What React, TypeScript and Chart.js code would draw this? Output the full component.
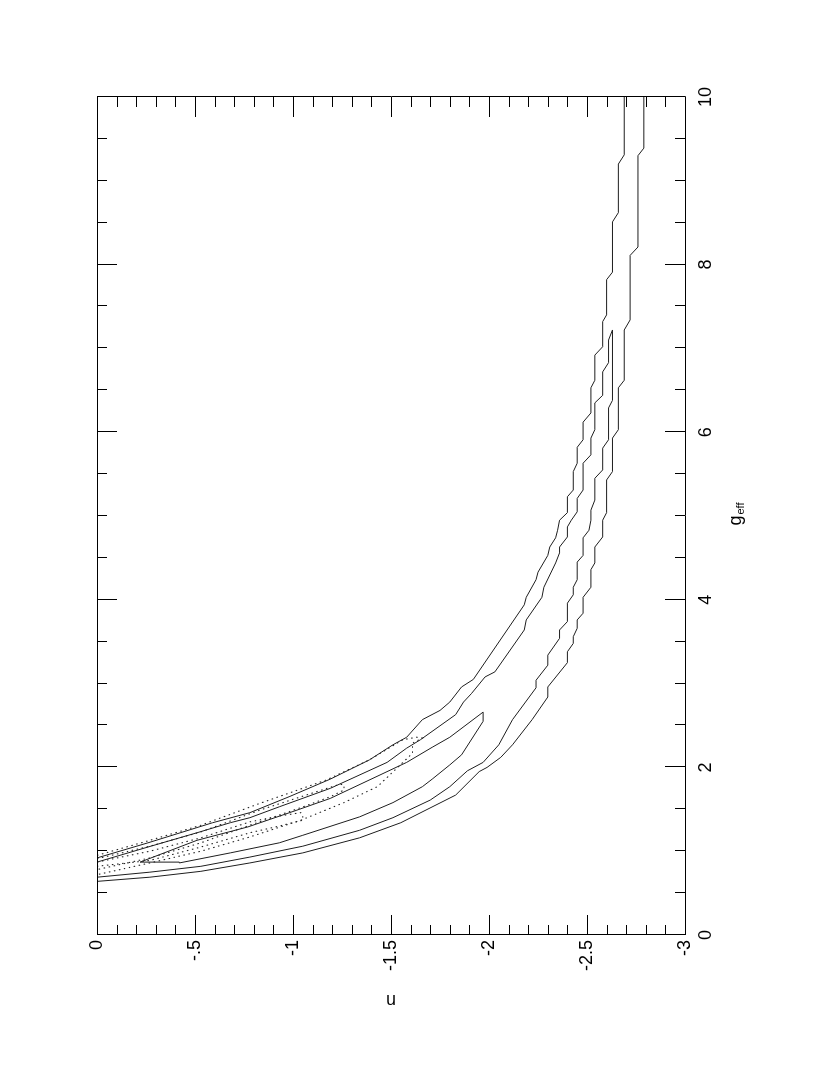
import React, { useEffect, useRef } from 'react';
import { Chart, registerables } from 'chart.js';

Chart.register(...registerables);

type Pt = [number, number]; // [g_eff, n]

// Axis ticks and titles
const gTickValues = [0, 2, 4, 6, 8, 10];
const gTickLabels = ['0', '2', '4', '6', '8', '10'];
const nTickValues = [0, -0.5, -1, -1.5, -2, -2.5, -3];
const nTickLabels = ['0', '-.5', '-1', '-1.5', '-2', '-2.5', '-3'];
const xTitleMain = 'g';
const xTitleSub = 'eff';
const yTitle = 'n';

// Solid contours
const solidOuterUpper: Pt[] = [
  [0.92, 0], [1.10, -0.26], [1.34, -0.59], [1.46, -0.78], [1.65, -0.98], [1.86, -1.19],
  [2.09, -1.39], [2.27, -1.51], [2.36, -1.58], [2.57, -1.66], [2.68, -1.75], [2.78, -1.80],
  [2.96, -1.86], [3.05, -1.92], [3.94, -2.18], [4.03, -2.19], [4.24, -2.24], [4.33, -2.25],
  [4.53, -2.30], [4.63, -2.31], [4.74, -2.34], [4.83, -2.35], [4.95, -2.36], [5.04, -2.40],
  [5.23, -2.40], [5.31, -2.43], [5.53, -2.43], [5.63, -2.45], [5.82, -2.45], [5.91, -2.48],
  [6.12, -2.48], [6.23, -2.52], [6.53, -2.52], [6.62, -2.54], [6.92, -2.54], [7.02, -2.58],
  [7.32, -2.58], [7.40, -2.60], [7.82, -2.60], [7.91, -2.63], [8.51, -2.63], [8.62, -2.66],
  [9.20, -2.66], [9.31, -2.69], [10, -2.69],
];

const solidOuterLower: Pt[] = [
  [0.64, 0], [0.69, -0.27], [0.76, -0.53], [0.86, -0.78], [0.98, -1.05], [1.16, -1.34],
  [1.34, -1.55], [1.67, -1.83], [1.95, -1.95], [2.00, -1.99], [2.12, -2.06], [2.27, -2.12],
  [2.57, -2.22], [2.84, -2.30], [2.96, -2.30], [3.25, -2.40], [3.38, -2.40], [3.48, -2.43],
  [3.56, -2.43], [3.66, -2.45], [3.76, -2.45], [3.84, -2.48], [4.03, -2.48], [4.15, -2.52],
  [4.36, -2.52], [4.44, -2.54], [4.63, -2.54], [4.75, -2.58], [4.95, -2.58], [5.04, -2.60],
  [5.43, -2.60], [5.53, -2.63], [5.93, -2.63], [6.03, -2.66], [6.53, -2.66], [6.62, -2.69],
  [7.22, -2.69], [7.34, -2.72], [8.11, -2.72], [8.21, -2.76], [9.30, -2.76], [9.39, -2.79],
  [10, -2.79],
];

const solidMiddleLoop: Pt[] = [
  [0.87, 0], [1.05, -0.26], [1.22, -0.51], [1.34, -0.68], [1.40, -0.78], [1.53, -0.93],
  [1.75, -1.19], [2.06, -1.48], [2.23, -1.58], [2.33, -1.65], [2.63, -1.83], [2.78, -1.87],
  [2.88, -1.91], [3.08, -1.98], [3.14, -2.03], [3.64, -2.18], [3.76, -2.19], [4.03, -2.27],
  [4.15, -2.28], [4.44, -2.34], [4.56, -2.36], [4.63, -2.36], [4.75, -2.40], [4.87, -2.40],
  [4.95, -2.42], [5.05, -2.45], [5.21, -2.45], [5.31, -2.48], [5.63, -2.48], [5.73, -2.52],
  [5.93, -2.52], [6.03, -2.54], [6.35, -2.54], [6.44, -2.58], [6.72, -2.58], [6.83, -2.61],
  [7.10, -2.61], [7.22, -2.63],
  [6.38, -2.63], [6.29, -2.61], [5.91, -2.61], [5.81, -2.58], [5.55, -2.58], [5.45, -2.54],
  [5.19, -2.54], [5.07, -2.52], [4.95, -2.52], [4.83, -2.51], [4.74, -2.48], [4.53, -2.48],
  [4.45, -2.45], [4.24, -2.45], [4.15, -2.43], [4.06, -2.43], [3.96, -2.40], [3.74, -2.40],
  [3.64, -2.36], [3.54, -2.36], [3.34, -2.30], [3.22, -2.30], [3.04, -2.24], [2.95, -2.24],
  [2.57, -2.12], [2.27, -2.05], [2.06, -1.97], [1.96, -1.89], [1.77, -1.80], [1.61, -1.70],
  [1.40, -1.51], [1.25, -1.34], [1.06, -1.05], [0.93, -0.78], [0.82, -0.53], [0.75, -0.27],
  [0.69, 0],
];

const solidInnerLoop: Pt[] = [
  [0.87, -0.22], [1.13, -0.51], [1.29, -0.77], [1.49, -1.02], [1.63, -1.19], [2.06, -1.58],
  [2.24, -1.71], [2.36, -1.80], [2.66, -1.97], [2.55, -1.97], [2.15, -1.86], [2.03, -1.80],
  [1.86, -1.71], [1.77, -1.66], [1.58, -1.51], [1.41, -1.34], [1.19, -1.05], [1.10, -0.93],
  [0.98, -0.68], [0.86, -0.42], [0.87, -0.22],
];

// Dotted contours
const dottedOuterLoop: Pt[] = [
  [0.95, 0], [1.13, -0.27], [1.31, -0.53], [1.57, -0.83], [1.85, -1.17], [2.09, -1.39],
  [2.33, -1.56], [2.36, -1.63], [2.35, -1.66], [2.29, -1.61], [2.17, -1.61], [1.99, -1.53],
  [1.77, -1.43], [1.58, -1.26], [1.37, -1.04], [1.17, -0.78], [1.00, -0.53], [0.86, -0.27],
  [0.72, 0],
];

const dottedMiddleLoop: Pt[] = [
  [0.91, 0], [1.06, -0.27], [1.23, -0.53], [1.49, -0.83], [1.71, -1.12], [1.80, -1.24],
  [1.79, -1.26], [1.73, -1.26], [1.65, -1.19], [1.52, -1.04], [1.31, -0.78], [1.10, -0.53],
  [0.92, -0.27], [0.78, 0],
];

const dottedInnerLoop: Pt[] = [
  [0.87, 0], [1.00, -0.27], [1.16, -0.53], [1.35, -0.78], [1.42, -0.93], [1.46, -1.04],
  [1.43, -1.05], [1.37, -1.05], [1.30, -0.93], [1.22, -0.78], [1.05, -0.53], [0.89, -0.27],
  [0.82, 0],
];

const FONT = '"Liberation Sans", Arial, Helvetica, sans-serif';
const W = 1075;
const H = 830;

export default function App() {
  const ref = useRef<HTMLCanvasElement>(null);

  useEffect(() => {
    if (!ref.current) return;
    const toXY = (pts: Pt[]) => pts.map(([g, n]) => ({ x: g, y: n }));
    const solid = (pts: Pt[]) => ({
      data: toXY(pts), showLine: true, borderColor: '#1e1e1e', borderWidth: 1,
      pointRadius: 0, pointHoverRadius: 0, fill: false, tension: 0,
    });
    const dotted = (pts: Pt[]) => ({
      data: toXY(pts), showLine: true, borderColor: '#222', borderWidth: 1.1,
      borderDash: [1.5, 3.6], pointRadius: 0, pointHoverRadius: 0, fill: false, tension: 0,
    });

    const framePlugin = {
      id: 'frameTicks',
      afterDraw(chart: any) {
        const ctx = chart.ctx as CanvasRenderingContext2D;
        const a = chart.chartArea;
        const xs = chart.scales.x;
        const ys = chart.scales.y;
        ctx.save();
        ctx.strokeStyle = '#000';
        ctx.lineWidth = 1;
        ctx.beginPath();
        ctx.rect(Math.round(a.left) + 0.5, Math.round(a.top) + 0.5, Math.round(a.right - a.left), Math.round(a.bottom - a.top));
        ctx.stroke();
        ctx.beginPath();
        // g_eff ticks: minor every 0.5, major every 2
        for (let i = 0; i <= 20; i++) {
          const g = i * 0.5;
          const px = Math.round(xs.getPixelForValue(g)) + 0.5;
          const len = i % 4 === 0 ? 20 : 10;
          ctx.moveTo(px, a.bottom);
          ctx.lineTo(px, a.bottom - len);
          ctx.moveTo(px, a.top);
          ctx.lineTo(px, a.top + len);
        }
        // n ticks: minor every 0.1, major every 0.5
        for (let i = 0; i <= 30; i++) {
          const n = -i * 0.1;
          const py = Math.round(ys.getPixelForValue(n)) + 0.5;
          const len = i % 5 === 0 ? 20 : 10;
          ctx.moveTo(a.left, py);
          ctx.lineTo(a.left + len, py);
          ctx.moveTo(a.right, py);
          ctx.lineTo(a.right - len, py);
        }
        ctx.stroke();

        // titles
        ctx.fillStyle = '#000';
        ctx.textBaseline = 'alphabetic';
        ctx.font = `18px ${FONT}`;
        const w1 = ctx.measureText(xTitleMain).width;
        ctx.font = `11px ${FONT}`;
        const w2 = ctx.measureText(xTitleSub).width;
        const cx = (a.left + a.right) / 2 + 2;
        const x0 = cx - (w1 + w2 + 1) / 2;
        const base = a.bottom + 56;
        ctx.font = `18px ${FONT}`;
        ctx.textAlign = 'left';
        ctx.fillText(xTitleMain, x0, base);
        ctx.font = `11px ${FONT}`;
        ctx.fillText(xTitleSub, x0 + w1 + 1, base + 3);

        ctx.translate(a.left - 65, (a.top + a.bottom) / 2);
        ctx.rotate(-Math.PI / 2);
        ctx.font = `18px ${FONT}`;
        ctx.textAlign = 'center';
        ctx.textBaseline = 'middle';
        ctx.fillText(yTitle, 0, 0);
        ctx.restore();
      },
    };

    const chart = new Chart(ref.current, {
      type: 'scatter',
      data: {
        datasets: [
          solid(solidOuterUpper),
          solid(solidOuterLower),
          solid(solidMiddleLoop),
          solid(solidInnerLoop),
          dotted(dottedOuterLoop),
          dotted(dottedMiddleLoop),
          dotted(dottedInnerLoop),
        ] as any,
      },
      options: {
        responsive: false,
        animation: false,
        devicePixelRatio: 1,
        events: [],
        layout: { padding: { top: 97, right: 97, left: 0, bottom: 0 } },
        plugins: { legend: { display: false }, tooltip: { enabled: false }, title: { display: false } },
        scales: {
          x: {
            type: 'linear', position: 'bottom', min: 0, max: 10,
            grid: { display: false, drawTicks: false },
            border: { display: false },
            afterFit: (s: any) => { s.height = 145; },
            afterBuildTicks: (s: any) => { s.ticks = gTickValues.map((v) => ({ value: v })); },
            ticks: {
              autoSkip: false, maxRotation: 0, minRotation: 0, padding: 10, color: '#000',
              font: { family: FONT, size: 18 },
              callback: (v: any) => {
                const i = gTickValues.indexOf(Number(v));
                return i >= 0 ? gTickLabels[i] : '';
              },
            },
          },
          y: {
            type: 'linear', position: 'left', min: -3, max: 0,
            grid: { display: false, drawTicks: false },
            border: { display: false },
            afterFit: (s: any) => { s.width = 140; },
            afterBuildTicks: (s: any) => { s.ticks = nTickValues.map((v) => ({ value: v })); },
            ticks: {
              autoSkip: false, padding: 5, color: '#000',
              font: { family: FONT, size: 18 },
              callback: (v: any) => {
                const i = nTickValues.findIndex((t) => Math.abs(t - Number(v)) < 1e-9);
                return i >= 0 ? nTickLabels[i] : '';
              },
            },
          },
        },
      } as any,
      plugins: [framePlugin],
    });
    return () => chart.destroy();
  }, []);

  return (
    <div style={{ position: 'fixed', left: 0, top: 0, width: 830, height: 1075, overflow: 'hidden', background: '#fff' }}>
      <div
        style={{
          position: 'absolute', left: 0, top: 0, width: W, height: H,
          transformOrigin: '0 0', transform: `translate(0px, ${W}px) rotate(-90deg)`,
        }}
      >
        <canvas ref={ref} width={W} height={H} style={{ display: 'block', width: W, height: H }} />
      </div>
    </div>
  );
}
